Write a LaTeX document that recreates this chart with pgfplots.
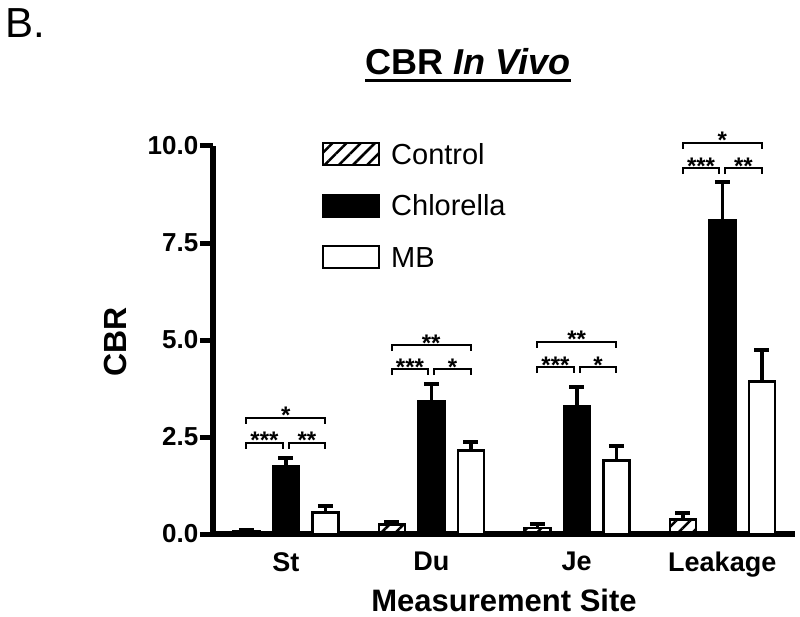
\documentclass[border=0pt]{standalone}
\usepackage{pgfplots}
\pgfplotsset{compat=1.18}
\usepackage{pgfplotstable}
\usepackage{fontspec}
\setmainfont{Liberation Sans}
\usetikzlibrary{patterns.meta}

\pgfplotstableread{
x y e
0 0.07 0.04
1 0.25 0.05
2 0.15 0.10
3 0.38 0.15
}\control
\pgfplotstableread{
x y e
0 1.75 0.22
1 3.43 0.44
2 3.28 0.52
3 8.08 1.00
}\chlorella
\pgfplotstableread{
x y e
0 0.55 0.18
1 2.15 0.21
2 1.90 0.36
3 3.93 0.82
}\mb

\newcommand{\br}[5]{%
  \draw[line width=2pt] ([yshift=-6pt]axis cs:#1,#3) -- (axis cs:#1,#3) -- (axis cs:#2,#3) -- ([yshift=-6pt]axis cs:#2,#3);
  \node[font=\bfseries\fontsize{24}{24}\selectfont, anchor=base, inner sep=0pt] at ([yshift=-6pt]axis cs:#5,#3) {#4};
}

\begin{document}
\begin{tikzpicture}
\begin{axis}[
  at={(213pt,-534pt)}, anchor=south west,
  scale only axis, width=582pt, height=388pt,
  xmin=-0.5, xmax=3.5, ymin=0, ymax=10,
  clip=false,
  axis x line*=bottom, axis y line*=left,
  axis line style={line width=6pt, -},
  ybar=13.5pt, bar width=26pt,
  xtick={0,1,2,3}, xticklabels={St,Du,Je,Leakage},
  ytick={0,2.5,5,7.5,10},
  /pgf/number format/fixed, /pgf/number format/fixed zerofill, /pgf/number format/precision=1,
  /pgf/number format/assume math mode=true,
  tick align=outside, major tick length=13pt,
  xtick style={draw=none},
  ytick style={line width=5pt, black},
  yticklabel style={font=\bfseries\fontsize{26}{26}\selectfont, inner sep=1.5pt},
  xticklabel style={font=\bfseries\fontsize{27}{27}\selectfont, inner sep=0pt, yshift=-5pt},
  xlabel={Measurement Site},
  ylabel={CBR},
  xlabel style={font=\bfseries\fontsize{31}{31}\selectfont, at={(axis description cs:0.5,0)}, anchor=base, yshift=-77pt},
  ylabel style={font=\bfseries\fontsize{32}{32}\selectfont, at={(axis description cs:-0.1478,0.495)}, anchor=base},
  legend image code/.code={\draw[#1, line width=2pt] (0pt,-1pt) rectangle (56pt,21pt);},
  legend style={draw=none, fill=none, inner sep=0pt, at={(axis description cs:0.1873,1.010)}, anchor=north west,
    font=\fontsize{29}{29}\selectfont, nodes={inner sep=0pt, anchor=base west}, column sep=11pt, row sep=27.5pt},
  legend cell align=left,
  error bars/error bar style={line width=3.5pt, black},
  error bars/error mark options={rotate=90, line width=4pt, mark size=7.5pt, black},
]
\addplot[draw=black, line width=2.5pt, pattern={Lines[angle=45,distance=10pt,line width=2.5pt]},
  error bars/.cd, y dir=plus, y explicit]
  table[x=x, y=y, y error=e]{\control};
\addplot[draw=black, fill=black, line width=2.5pt,
  error bars/.cd, y dir=plus, y explicit]
  table[x=x, y=y, y error=e]{\chlorella};
\addplot[draw=black, fill=white, line width=2.5pt,
  error bars/.cd, y dir=plus, y explicit]
  table[x=x, y=y, y error=e]{\mb};
\legend{Control, Chlorella, MB}

% significance brackets
\br{-0.272}{0.272}{2.99}{*}{0}
\br{-0.272}{-0.02}{2.35}{***}{-0.146}
\br{0.02}{0.272}{2.35}{**}{0.146}

\br{0.728}{1.272}{4.87}{**}{1}
\br{0.728}{0.98}{4.25}{***}{0.854}
\br{1.02}{1.272}{4.25}{*}{1.146}

\br{1.728}{2.272}{4.95}{**}{2}
\br{1.728}{1.98}{4.30}{***}{1.854}
\br{2.02}{2.272}{4.30}{*}{2.146}

\br{2.728}{3.272}{10.08}{*}{3}
\br{2.728}{2.98}{9.43}{***}{2.854}
\br{3.02}{3.272}{9.43}{**}{3.146}
\end{axis}

\node[anchor=base west, inner sep=0pt, font=\fontsize{42}{42}\selectfont] at (5pt,-38pt) {B.};
\node[anchor=base, inner sep=0pt, font=\bfseries\fontsize{36}{36}\selectfont] (t) at (468pt,-75pt) {CBR \textit{In Vivo}};
\draw[line width=3pt] ([yshift=-6pt]t.base west) -- ([yshift=-6pt]t.base east);

\pgfresetboundingbox
\path (0pt,0pt) rectangle (800pt,-617pt);
\end{tikzpicture}
\end{document}
